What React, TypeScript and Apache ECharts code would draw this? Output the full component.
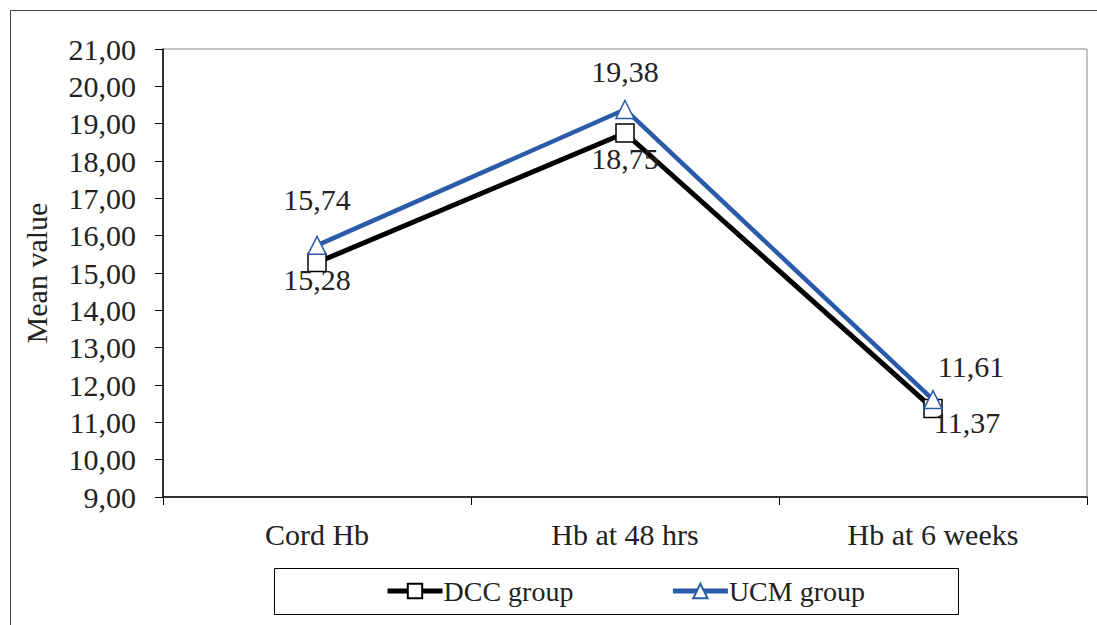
import React, { useEffect, useRef } from "react";
import * as echarts from "echarts";

const categories = ["Cord Hb", "Hb at 48 hrs", "Hb at 6 weeks"];
const dccValues = [15.28, 18.75, 11.37];
const ucmValues = [15.74, 19.38, 11.61];
const seriesNames = ["DCC group", "UCM group"];

const FONT = "Liberation Serif";
const fmt = (v: number) => v.toFixed(2).replace(".", ",");

export default function App() {
  const ref = useRef<HTMLDivElement>(null);
  useEffect(() => {
    if (!ref.current) return;
    const chart = echarts.init(ref.current, null, { renderer: "svg" });
    const dccLabelOffsets = [[0, 17], [0, 25], [34, 14]];
    const ucmLabelOffsets = [[0, -46], [0, -38], [38, -33]];
    chart.setOption({
      animation: false,
      backgroundColor: "#fff",
      textStyle: { fontFamily: FONT },
      grid: {
        left: 163,
        right: 10,
        top: 49,
        bottom: 128,
        show: true,
        borderColor: "#888",
        borderWidth: 1,
      },
      legend: {
        left: 380,
        top: 572,
        itemWidth: 55,
        itemHeight: 18,
        itemGap: 97,
        lineStyle: { width: 5 },
        textStyle: { fontFamily: FONT, fontSize: 28, color: "#222", padding: [0, 0, 0, -4] },
        data: seriesNames,
      },
      graphic: [
        {
          type: "rect",
          shape: { x: 10.5, y: 10.5, width: 1200, height: 700 },
          style: { fill: "none", stroke: "#444", lineWidth: 1 },
          silent: true,
          z: -1,
        },
        {
          type: "rect",
          shape: { x: 274.5, y: 568.5, width: 684, height: 46 },
          style: { fill: "none", stroke: "#000", lineWidth: 1 },
          silent: true,
        },
      ],
      xAxis: {
        type: "category",
        data: categories,
        boundaryGap: true,
        axisLine: { lineStyle: { color: "#000", width: 1.5 } },
        axisTick: { show: true, length: 8, lineStyle: { color: "#000" } },
        axisLabel: { fontFamily: FONT, fontSize: 30, color: "#222", margin: 22 },
      },
      yAxis: {
        type: "value",
        min: 9,
        max: 21,
        interval: 1,
        name: "Mean value",
        nameLocation: "middle",
        nameGap: 112,
        nameTextStyle: { fontFamily: FONT, fontSize: 30, color: "#222" },
        axisLine: { show: true, lineStyle: { color: "#000", width: 1.5 } },
        axisTick: { show: true, length: 8, lineStyle: { color: "#000" } },
        splitLine: { show: false },
        axisLabel: {
          fontFamily: FONT,
          fontSize: 30,
          color: "#222",
          margin: 27,
          formatter: (v: number) => fmt(v),
        },
      },
      series: [
        {
          name: seriesNames[0],
          type: "line",
          data: dccValues.map((v, i) => ({
            value: v,
            label: { offset: dccLabelOffsets[i] },
          })),
          symbol: "rect",
          symbolSize: 18,
          lineStyle: { color: "#000", width: 5 },
          itemStyle: { color: "#fff", borderColor: "#000", borderWidth: 1.5 },
          label: {
            show: true,
            position: "inside",
            fontFamily: FONT,
            fontSize: 30,
            color: "#222",
            formatter: (p: any) => fmt(p.value),
          },
          z: 2,
        },
        {
          name: seriesNames[1],
          type: "line",
          data: ucmValues.map((v, i) => ({
            value: v,
            label: { offset: ucmLabelOffsets[i] },
          })),
          symbol: "triangle",
          symbolSize: 18,
          lineStyle: { color: "#2a5ba8", width: 4.5 },
          itemStyle: { color: "#fff", borderColor: "#2a5ba8", borderWidth: 1.5 },
          label: {
            show: true,
            position: "inside",
            fontFamily: FONT,
            fontSize: 30,
            color: "#222",
            formatter: (p: any) => fmt(p.value),
          },
          z: 3,
        },
      ],
    });
    return () => chart.dispose();
  }, []);
  return (
    <div
      ref={ref}
      style={{ position: "absolute", left: 0, top: 0, width: 1097, height: 625 }}
    />
  );
}
